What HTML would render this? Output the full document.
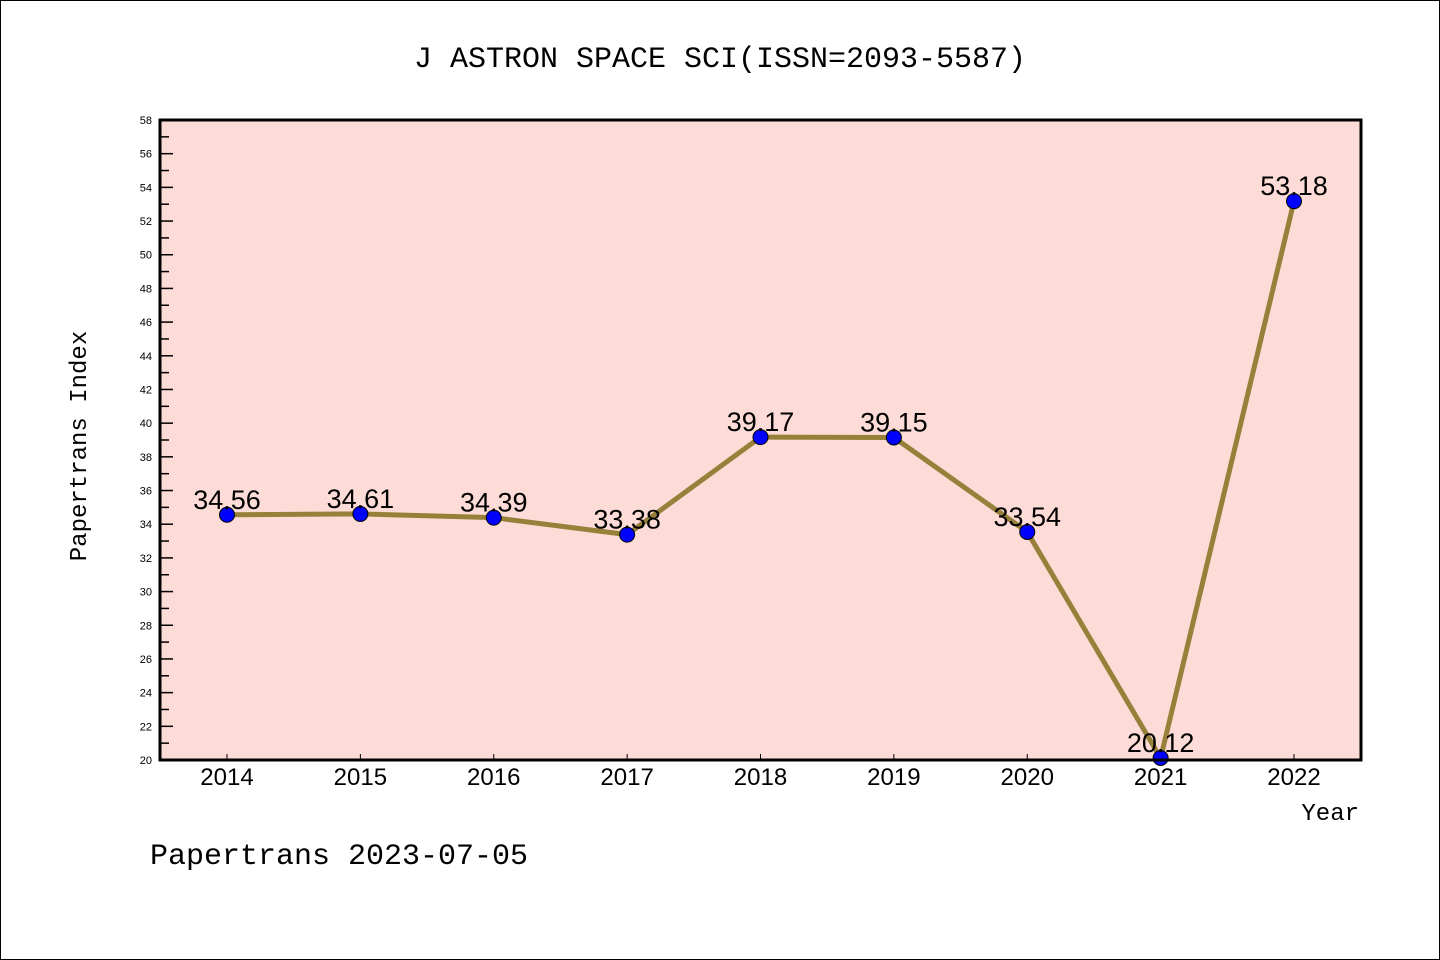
<!DOCTYPE html>
<html><head><meta charset="utf-8"><style>
html,body{margin:0;padding:0;background:#fff;}
svg{display:block;font-family:"Liberation Sans","DejaVu Sans",sans-serif;}
</style></head><body>
<svg id="chart" width="1440" height="960" viewBox="0 0 1440 960">
<rect x="0.5" y="0.5" width="1439" height="959" fill="#fff" stroke="#000" stroke-width="1"/>
<text x="720" y="67" text-anchor="middle" font-size="30" font-family="Liberation Mono, monospace">J ASTRON SPACE SCI(ISSN=2093-5587)</text>
<rect x="160" y="120" width="1201" height="640" fill="#fddbd7"/>
<g id="yaxis"></g>
<g id="xaxis"></g>
<g id="series"></g>
<rect x="160" y="120" width="1201" height="640" fill="none" stroke="#000" stroke-width="3"/>
<text x="86" y="446" text-anchor="middle" font-size="24" font-family="Liberation Mono, monospace" transform="rotate(-90 86 446)">Papertrans Index</text>
<text x="1359" y="820" text-anchor="end" font-size="24" font-family="Liberation Mono, monospace">Year</text>
<text x="150" y="864" font-size="30" font-family="Liberation Mono, monospace">Papertrans 2023-07-05</text>
</svg>
<script>
const years = ["2014","2015","2016","2017","2018","2019","2020","2021","2022"];
const values = [34.56,34.61,34.39,33.38,39.17,39.15,33.54,20.12,53.18];
const labels = ["34.56","34.61","34.39","33.38","39.17","39.15","33.54","20.12","53.18"];
const yTicks = [20,22,24,26,28,30,32,34,36,38,40,42,44,46,48,50,52,54,56,58];

const NS="http://www.w3.org/2000/svg";
const yMin=20,yMax=58,plotTop=120,plotBot=760;
function yS(v){return plotBot-(v-yMin)/(yMax-yMin)*(plotBot-plotTop);}
const x0=227,x1=1294;
function xS(i){return x0+i*(x1-x0)/(years.length-1);}
function mk(t,a,p){const e=document.createElementNS(NS,t);for(const k in a)e.setAttribute(k,a[k]);p.appendChild(e);return e;}

const ya=document.getElementById('yaxis');
yTicks.forEach(v=>{
  const y=yS(v);
  const t=mk('line',{x1:160,x2:173,y1:y,y2:y,stroke:'#000','stroke-width':1.5},ya);
  
  
  const l=mk('text',{x:152,y:y+4,'text-anchor':'end','font-size':11},ya);
  l.textContent=v;
  
  
  if(v<yMax){
    const ym=yS(v+1);
    const m=mk('line',{x1:160,x2:169,y1:ym,y2:ym,stroke:'#000','stroke-width':1.5},ya);
    
    
  }
});
const xa=document.getElementById('xaxis');
years.forEach((yr,i)=>{
  const x=xS(i);
  const t=mk('line',{x1:x,x2:x,y1:plotBot,y2:plotBot-6,stroke:'#000','stroke-width':1},xa);
  
  
  const l=mk('text',{x:x,y:785,'text-anchor':'middle','font-size':24},xa);
  l.textContent=yr;
  
  
});
const s=document.getElementById('series');
const pts=values.map((v,i)=>xS(i)+','+yS(v)).join(' ');
const pl=mk('polyline',{points:pts,fill:'none',stroke:'#978039','stroke-width':5,'stroke-linejoin':'round'},s);


values.forEach((v,i)=>{
  const c=mk('circle',{cx:xS(i),cy:yS(v),r:7.5,fill:'#0000ff',stroke:'#000','stroke-width':1},s);
  
  
});
values.forEach((v,i)=>{
  const l=mk('text',{x:xS(i),y:yS(v)-6,'text-anchor':'middle','font-size':27},s);
  l.textContent=labels[i];
  
  
});
</script>
</body></html>
